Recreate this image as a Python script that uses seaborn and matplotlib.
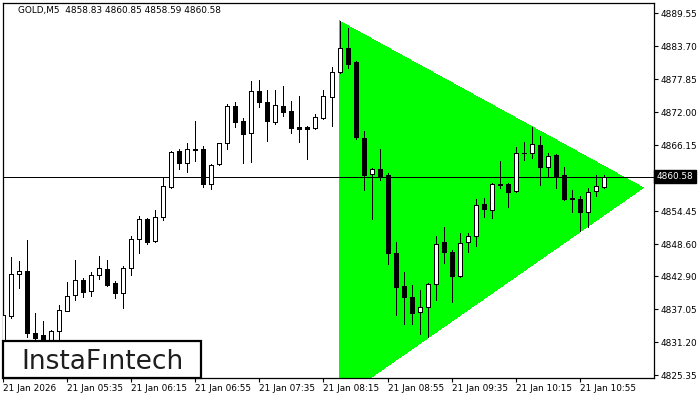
import numpy as np
import matplotlib
matplotlib.use("Agg")
import matplotlib.pyplot as plt
import seaborn as sns
from matplotlib.patches import Rectangle

# GOLD M5 candles (bar 0 = 21 Jan 04:55)
opens = [4830.75, 4835.94, 4843.28, 4843.87, 4832.88, 4832.52, 4830.57, 4833.18, 4836.83, 4839.56,
         4842.27, 4840.27, 4843.11, 4844.17, 4841.69, 4839.91, 4844.34, 4849.49, 4853.09, 4849.13,
         4853.49, 4858.81, 4865.14, 4862.96, 4865.44, 4865.49, 4859.24, 4862.78, 4866.50, 4873.06,
         4870.41, 4868.28, 4875.72, 4873.77, 4870.33, 4873.06, 4872.18, 4869.48, 4869.39, 4869.27,
         4871.04, 4874.66, 4879.09, 4883.35, 4880.92, 4867.44, 4861.01, 4861.90, 4860.89, 4847.06,
         4841.21, 4839.26, 4836.55, 4837.54, 4841.51, 4848.96, 4847.24, 4843.03, 4848.96, 4850.13,
         4855.74, 4854.73, 4859.29, 4859.29, 4858.10, 4864.87, 4864.73, 4866.20, 4862.25, 4864.43,
         4860.83, 4856.76, 4856.58, 4854.27, 4858.00, 4858.83]
highs = [4836.78, 4846.40, 4845.64, 4849.36, 4836.37, 4835.00, 4833.41, 4837.84, 4841.97, 4845.82,
         4842.63, 4843.69, 4846.53, 4845.82, 4842.15, 4844.75, 4850.02, 4853.56, 4853.26, 4854.68,
         4860.48, 4865.09, 4865.55, 4866.56, 4870.46, 4866.03, 4862.75, 4866.56, 4873.42, 4873.77,
         4870.94, 4877.55, 4877.73, 4875.95, 4875.95, 4876.66, 4874.00, 4874.89, 4869.52, 4871.70,
         4875.95, 4879.98, 4888.19, 4886.94, 4881.09, 4868.69, 4862.13, 4865.49, 4861.24, 4849.01,
         4843.64, 4841.33, 4840.50, 4841.83, 4850.07, 4851.67, 4847.59, 4850.55, 4850.55, 4856.63,
         4856.76, 4859.52, 4863.37, 4859.52, 4865.80, 4866.68, 4869.31, 4867.85, 4864.84, 4864.55,
         4862.36, 4858.23, 4857.16, 4858.53, 4860.83, 4860.85]
lows = [4829.86, 4835.59, 4840.91, 4832.22, 4830.75, 4830.57, 4830.22, 4831.64, 4836.78, 4838.78,
        4839.31, 4839.49, 4842.50, 4841.26, 4839.08, 4837.36, 4843.21, 4847.11, 4848.71, 4849.01,
        4852.96, 4858.63, 4862.00, 4861.47, 4863.42, 4858.76, 4858.32, 4862.66, 4865.58, 4869.45,
        4863.07, 4863.24, 4872.99, 4866.91, 4869.98, 4871.40, 4868.38, 4866.79, 4863.72, 4869.13,
        4870.87, 4869.63, 4878.97, 4879.77, 4867.21, 4858.28, 4853.09, 4860.05, 4845.16, 4836.07,
        4834.47, 4834.42, 4832.70, 4832.08, 4838.73, 4845.23, 4838.43, 4842.86, 4847.18, 4848.35,
        4853.49, 4853.26, 4858.63, 4855.27, 4857.93, 4863.54, 4863.99, 4859.20, 4860.71, 4858.63,
        4856.45, 4854.38, 4850.96, 4851.67, 4857.16, 4858.59]
closes = [4836.07, 4843.34, 4843.87, 4832.93, 4832.04, 4831.64, 4833.18, 4836.95, 4839.38, 4842.22,
          4840.20, 4843.11, 4844.34, 4841.39, 4839.91, 4844.34, 4849.54, 4853.09, 4849.06, 4853.39,
          4858.88, 4864.91, 4862.96, 4865.44, 4865.35, 4859.34, 4862.61, 4866.50, 4873.17, 4870.37,
          4868.21, 4875.72, 4873.88, 4870.51, 4873.21, 4872.11, 4869.27, 4869.13, 4869.09, 4871.11,
          4874.84, 4879.09, 4883.35, 4880.65, 4867.68, 4860.94, 4861.90, 4860.76, 4847.00, 4841.08,
          4839.20, 4836.48, 4837.43, 4841.53, 4848.60, 4847.18, 4843.03, 4848.78, 4850.02, 4855.51,
          4854.91, 4859.24, 4859.20, 4857.93, 4864.73, 4864.75, 4866.33, 4862.22, 4864.34, 4860.76,
          4856.63, 4856.58, 4854.24, 4857.87, 4858.88, 4860.58]

# symmetric triangle pattern (bar index, price)
tri_x = [41.94, 79.94, 41.94]
tri_y = [4888.19, 4858.63, 4821.05]

last_price = 4860.58
header = "GOLD,M5  4858.83 4860.85 4858.59 4860.58"

xtick_pos = [0, 8, 16, 24, 32, 40, 48, 56, 64, 72]
xtick_labels = ["21 Jan 2026", "21 Jan 05:35", "21 Jan 06:15", "21 Jan 06:55", "21 Jan 07:35",
                "21 Jan 08:15", "21 Jan 08:55", "21 Jan 09:35", "21 Jan 10:15", "21 Jan 10:55"]
ytick_vals = [4889.55, 4883.70, 4877.85, 4872.00, 4866.15, 4854.45, 4848.60, 4842.90,
              4837.05, 4831.20, 4825.35]

sns.set_style("white")
plt.rcParams['font.family'] = ['DejaVu Sans']

fig = plt.figure(figsize=(7, 4), dpi=100)
ax = fig.add_axes([3 / 700, 22 / 400, 651 / 700, 375 / 400])

ax.fill(tri_x, tri_y, color="#00ff00", lw=0, zorder=1, antialiased=False)
ax.axhline(last_price, color="black", lw=0.72, zorder=2)

o = np.array(opens)
c = np.array(closes)
x = np.arange(len(o))
ax.vlines(x, lows, highs, color="black", lw=0.72, zorder=3, antialiased=False)
body_low = np.minimum(o, c)
body_h = np.maximum(np.abs(c - o), 0.12)
face = ["white" if cc >= oo else "black" for oo, cc in zip(o, c)]
ax.bar(x, body_h, bottom=body_low, width=0.5, color=face, edgecolor="black",
       linewidth=0.6, zorder=4, antialiased=False)

ax.set_xlim(-0.06, 81.31)
ax.set_ylim(4824.90, 4891.38)

ax.set_xticks(xtick_pos)
ax.set_xticklabels(xtick_labels, ha="left")
ax.yaxis.tick_right()
ax.set_yticks(ytick_vals)
ax.set_yticklabels([f"{v:.2f}" for v in ytick_vals])
ax.tick_params(axis="both", which="both", labelsize=6.4, length=3, width=0.8,
               color="black", labelcolor="black", pad=1.5, direction="out")
ax.tick_params(axis="x", bottom=True)
ax.tick_params(axis="y", right=True, left=False)
for s in ax.spines.values():
    s.set_color("black")
    s.set_linewidth(0.9)

# current price marker on the axis
ax.text(1.004, last_price, "4860.58", transform=ax.get_yaxis_transform(), ha="left",
        va="center", fontsize=6.4, color="white", clip_on=False, zorder=10,
        bbox=dict(boxstyle="square,pad=0.25", facecolor="black", edgecolor="black"))

fig.text(18 / 700, 1 - 10 / 400, header, fontsize=6.4, color="black", va="center", ha="left")

# logo box
fig.add_artist(Rectangle((3 / 700, 22 / 400), 198 / 700, 37 / 400, transform=fig.transFigure,
                         facecolor="white", edgecolor="black", lw=1.6, zorder=5))
fig.text(102 / 700, 31 / 400, "InstaF\u0131ntech", fontsize=19, color="#1e1e1e",
         ha="center", va="baseline", zorder=6)

fig.savefig("out.png", dpi=100)
